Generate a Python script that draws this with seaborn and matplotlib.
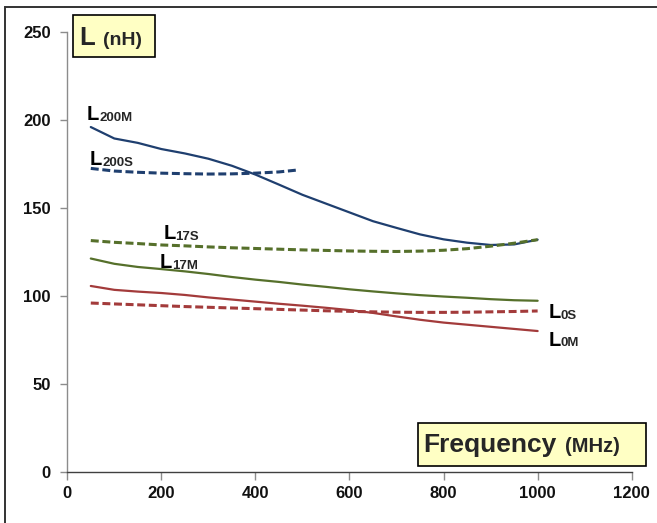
import matplotlib
matplotlib.use('Agg')
import matplotlib.pyplot as plt
import seaborn as sns
import pandas as pd
from matplotlib.patches import Rectangle

# ── values (MHz -> nH) ──
FREQ = [50, 100, 150, 200, 250, 300, 350, 400, 450, 500,
        550, 600, 650, 700, 750, 800, 850, 900, 950, 1000]
FREQ_200S = [50, 100, 150, 200, 250, 300, 350, 400, 450, 490]

L200M = [196, 189.5, 187, 183.5, 181, 178, 174, 169, 163.3, 157.5,
         152.5, 147.5, 142.5, 138.7, 135, 132.2, 130.3, 129, 129.3, 132]
L200S = [172.5, 171, 170.3, 169.8, 169.5, 169.3, 169.4, 169.8, 170.5, 171.6]
L17S = [131.5, 130.5, 129.8, 129, 128.5, 127.9, 127.4, 127, 126.6, 126.2,
        125.9, 125.6, 125.4, 125.3, 125.5, 126, 126.9, 128.3, 130, 132]
L17M = [121.3, 118.3, 116.5, 115.3, 114, 112.5, 110.8, 109.3, 108, 106.5,
        105.2, 103.8, 102.6, 101.5, 100.5, 99.7, 99, 98.2, 97.6, 97.3]
L0M = [105.7, 103.5, 102.5, 101.7, 100.6, 99.2, 98, 96.8, 95.6, 94.5,
       93.3, 92, 90.4, 88.4, 86.5, 84.9, 83.7, 82.5, 81.3, 80.1]
L0S = [96, 95.5, 95, 94.5, 94, 93.6, 93.2, 92.8, 92.4, 92,
       91.6, 91.3, 91, 90.8, 90.7, 90.7, 90.8, 91, 91.2, 91.5]

X_TICKS = [0, 200, 400, 600, 800, 1000, 1200]
Y_TICKS = [0, 50, 100, 150, 200, 250]

BLUE, GREEN, RED = '#1F3F6F', '#56702B', '#A33B3B'
BOX_FILL = '#FFFFC4'
FONT = 'Liberation Sans'

# series: (label suffix, x, y, colour, dashed, label anchor in data coords)
SERIES = [
    ('200M', FREQ, L200M, BLUE, False, (42, 200)),
    ('200S', FREQ_200S, L200S, BLUE, True, (48, 174.4)),
    ('17S', FREQ, L17S, GREEN, True, (204, 132.2)),
    ('17M', FREQ, L17M, GREEN, False, (197, 116)),
    ('0S', FREQ, L0S, RED, True, (1023, 87.3)),
    ('0M', FREQ, L0M, RED, False, (1023, 71.8)),
]


def sub_label(ax, xy, suffix, big=14.5, small=9.5):
    """'L' plus a smaller suffix sitting on the same baseline."""
    t = ax.text(*xy, 'L', fontsize=big, fontweight='bold', family=FONT,
                ha='left', va='baseline', color='black')
    ax.annotate(suffix, xy=(1, 0), xycoords=t, xytext=(0, 0.2), textcoords='offset points',
                fontsize=small, fontweight='bold', family=FONT, ha='left', va='bottom')
    return t


sns.set_theme(style='ticks')
plt.rcParams.update({'font.family': FONT, 'font.weight': 'bold'})

fig = plt.figure(figsize=(6.57, 5.23), dpi=100)
fig.patch.set_facecolor('white')
ax = fig.add_axes([0.1024, 0.0975, 0.9615 - 0.1024, 0.9388 - 0.0975])
ax.set_facecolor('white')

for suffix, xs, ys, col, dashed, pos in SERIES:
    df = pd.DataFrame({'f': xs, 'L': ys})
    sns.lineplot(data=df, x='f', y='L', ax=ax, color=col, sort=False,
                 linewidth=2.2 if dashed else 1.6)
    line = ax.get_lines()[-1]
    if dashed:
        line.set_dashes((2.6, 1.2))
        line.set_dash_capstyle('butt')
    sub_label(ax, pos, suffix)

ax.set_xlim(0, 1200)
ax.set_ylim(0, 250)
ax.set_xticks(X_TICKS)
ax.set_yticks(Y_TICKS)
ax.set_xlabel('')
ax.set_ylabel('')
sns.despine(ax=ax)
ax.spines['left'].set_color('#8C8C8C')
ax.spines['bottom'].set_color('#404040')
ax.spines['left'].set_linewidth(1.0)
ax.spines['bottom'].set_linewidth(1.0)
ax.tick_params(axis='y', direction='out', length=5, width=1.0, color='#8C8C8C', pad=7)
ax.tick_params(axis='x', direction='out', length=6, width=1.0, color='#8C8C8C', pad=4)
for lab in ax.get_xticklabels() + ax.get_yticklabels():
    lab.set_fontsize(12)
    lab.set_fontweight('bold')
    lab.set_family(FONT)
    lab.set_color('#111111')

W, H = 657, 523


def fx(px):
    return px / W


def fy(py):
    return 1 - py / H


# outer frame (right/bottom edges fall outside the picture)
fig.add_artist(Rectangle((fx(5), -0.05), 1.1, fy(7) + 0.05, transform=fig.transFigure,
                         fill=False, edgecolor='#333333', linewidth=1.4, zorder=10))

# "L (nH)" box
fig.add_artist(Rectangle((fx(73), fy(57)), fx(155) - fx(73), fy(15) - fy(57),
                         transform=fig.transFigure, facecolor=BOX_FILL,
                         edgecolor='black', linewidth=1.2, zorder=5))
fig.text(fx(79), fy(45), 'L', fontsize=18.5, fontweight='bold', family=FONT,
         ha='left', va='baseline', zorder=6)
fig.text(fx(103), fy(45), '(nH)', fontsize=14, fontweight='bold', family=FONT,
         ha='left', va='baseline', zorder=6)

# "Frequency (MHz)" box
fig.add_artist(Rectangle((fx(418), fy(466)), fx(646) - fx(418), fy(423) - fy(466),
                         transform=fig.transFigure, facecolor=BOX_FILL,
                         edgecolor='black', linewidth=1.2, zorder=5))
fig.text(fx(423), fy(452), 'Frequency', fontsize=19, fontweight='bold', family=FONT,
         ha='left', va='baseline', zorder=6)
fig.text(fx(565), fy(452), '(MHz)', fontsize=14.5, fontweight='bold', family=FONT,
         ha='left', va='baseline', zorder=6)

fig.savefig('out.png', dpi=100)
